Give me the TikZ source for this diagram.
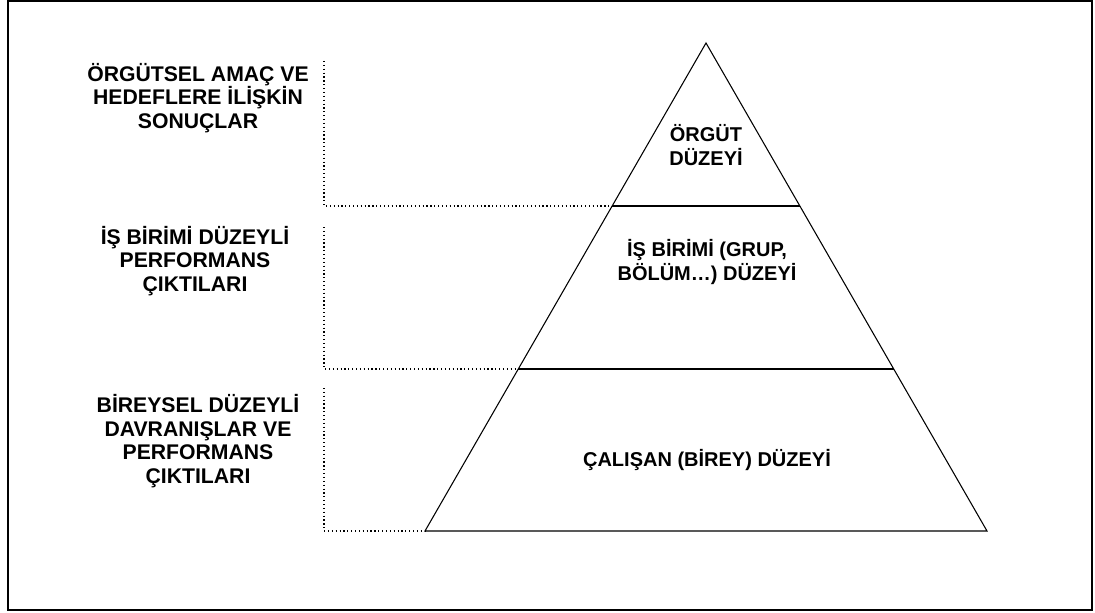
\documentclass[tikz,border=0pt]{standalone}
\usepackage{fontspec}
\setmainfont{Liberation Sans}
\begin{document}
\begin{tikzpicture}[x=0.75pt,y=-0.75pt,
  lbl/.style={font=\bfseries\fontsize{15}{17.4}\selectfont,align=center,inner sep=0pt},
  side/.style={lbl,font=\bfseries\fontsize{15.9}{17.7}\selectfont},
  pyr/.style={draw=black,line width=0.8pt},
  guide/.style={draw=black,line width=0.9pt,dotted},
  frame/.style={draw=black,line width=1.2pt}]
\useasboundingbox (0,0) rectangle (1095,613);
\draw[frame] (8,1) rectangle (1092,610);
% pyramid vertices
\coordinate (apex) at (706,43);
\coordinate (l1) at (612,206);
\coordinate (r1) at (800,206);
\coordinate (l2) at (518,369);
\coordinate (r2) at (894,369);
\coordinate (bl) at (425,531);
\coordinate (br) at (987,531);
\draw[pyr] (apex) -- (bl) -- (br) -- cycle;
\draw[pyr] (l1) -- (r1);
\draw[pyr] (l2) -- (r2);
% dotted guides
\coordinate (g1) at (324,61);
\coordinate (g2) at (324,227);
\coordinate (g3) at (324,388);
\draw[guide] (g1) |- (l1);
\draw[guide] (g2) |- (l2);
\draw[guide] (g3) |- (bl);
% left labels
\node[side] (t1) at (198,98) {ÖRGÜTSEL AMAÇ VE\\HEDEFLERE İLİŞKİN\\SONUÇLAR};
\node[side] (t2) at (195,261) {İŞ BİRİMİ DÜZEYLİ\\PERFORMANS\\ÇIKTILARI};
\node[side] (t3) at (198,441) {BİREYSEL DÜZEYLİ\\DAVRANIŞLAR VE\\PERFORMANS\\ÇIKTILARI};
% pyramid labels
\node[lbl] (p1) at (706,145) {ÖRGÜT\\DÜZEYİ};
\node[lbl] (p2) at (707,262) {İŞ BİRİMİ (GRUP,\\BÖLÜM…) DÜZEYİ};
\node[lbl] (p3) at (707,460) {ÇALIŞAN (BİREY) DÜZEYİ};
\end{tikzpicture}
\end{document}
